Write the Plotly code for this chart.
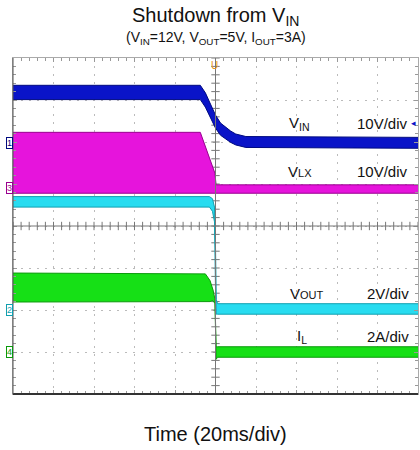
import numpy as np
import plotly.graph_objects as go

# time axis in ms (20 ms/div, 10 divisions), screen in divisions (8 vertical)
T_VIN = [-100, -7.5, -5, -2.5, 0, 2.5, 5, 7.5, 10, 12.5, 15, 100]
VIN_HI = [13.7, 13.7, 11.9, 9.2, 6.6, 4.7, 3.7, 2.8, 2.1, 1.8, 1.5, 1.3]
VIN_LO = [10.3, 10.3, 8.5, 5.8, 3.5, 1.8, 0.9, 0.1, -0.5, -0.8, -1.1, -1.3]

T_VLX = [-100, -7.5, -0.3, 0.3, 100]
VLX_HI = [13.3, 13.3, 3.6, 0.8, 0.8]
VLX_LO = [-1.2, -1.2, -1.2, -1.2, -1.2]

T_VOUT = [-100, -3, -1.5, -0.5, 0, 0.4, 1, 100]
VOUT_HI = [5.4, 5.4, 5.3, 4.9, 3.0, 0.5, 0.3, 0.3]
VOUT_LO = [4.9, 4.9, 4.7, 4.2, 1.0, -0.2, -0.2, -0.2]

T_IL = [-100, -5, -2.7, -1.2, -0.25, 0.3, 1, 100]
IL_HI = [3.76, 3.72, 3.4, 2.95, 2.5, 0.25, 0.25, 0.25]
IL_LO = [2.38, 2.38, 2.4, 2.45, 2.3, -0.35, -0.25, -0.25]

# channel: (name, per-div scale, ground offset in div, colour, edge colour)
CHANNELS = [
    ("VIN", 10, 1.98, "#0a14c8", "#000a80", T_VIN, VIN_HI, VIN_LO),
    ("VLX", 10, 0.9, "#e614dc", "#9a0090", T_VLX, VLX_HI, VLX_LO),
    ("VOUT", 2, -2.0, "#28dcf0", "#10a0b0", T_VOUT, VOUT_HI, VOUT_LO),
    ("IL", 2, -3.0, "#16e016", "#0a9a0a", T_IL, IL_HI, IL_LO),
]

FONT = "Liberation Sans, Arial, sans-serif"

fig = go.Figure()

# centre crosshair tick marks
ht = np.arange(-100, 100.1, 4)
vt = np.arange(-4, 4.01, 0.2)
fig.add_trace(go.Scatter(x=ht, y=[0] * len(ht), mode="markers",
                         marker=dict(symbol="line-ns", size=6, line=dict(width=1, color="#777")),
                         showlegend=False, hoverinfo="skip"))
fig.add_trace(go.Scatter(x=[0] * len(vt), y=vt, mode="markers",
                         marker=dict(symbol="line-ew", size=6, line=dict(width=1, color="#777")),
                         showlegend=False, hoverinfo="skip"))

for name, scale, off, color, edge, t, hi, lo in CHANNELS:
    lo_div = [off + v / scale for v in lo]
    hi_div = [off + v / scale for v in hi]
    fig.add_trace(go.Scatter(x=t, y=lo_div, mode="lines",
                             line=dict(color=edge, width=1), showlegend=False,
                             hoverinfo="skip"))
    fig.add_trace(go.Scatter(x=t, y=hi_div, mode="lines", fill="tonexty",
                             fillcolor=color, line=dict(color=edge, width=1),
                             name=name, showlegend=False))

fig.add_shape(type="line", x0=-100, x1=100, y0=0, y1=0, line=dict(color="#777", width=1))
fig.add_shape(type="line", x0=0, x1=0, y0=-4, y1=4, line=dict(color="#777", width=1))
fig.add_shape(type="line", xref="paper", yref="paper", x0=0, x1=1, y0=0, y1=0,
              line=dict(color="#333", width=2))
fig.add_shape(type="line", xref="paper", yref="paper", x0=0, x1=0, y0=0, y1=1,
              line=dict(color="#555", width=1))

ann = []
lab = dict(font=dict(family=FONT, size=15, color="#111"), showarrow=False)
ann.append(dict(x=41.7, y=2.45, text="V<sub>IN</sub>", **lab))
ann.append(dict(x=82.7, y=2.45, text="10V/div", **lab))
ann.append(dict(x=41.7, y=1.29, text="V<span style='font-size:11px'>LX</span>", **lab))
ann.append(dict(x=82.7, y=1.29, text="10V/div", **lab))
ann.append(dict(x=45.2, y=-1.6, text="V<span style='font-size:11px'>OUT</span>", **lab))
ann.append(dict(x=85.2, y=-1.6, text="2V/div", **lab))
ann.append(dict(x=42.7, y=-2.64, text="I<sub>L</sub>", **lab))
ann.append(dict(x=85.2, y=-2.64, text="2A/div", **lab))

# channel ground markers
for num, (name, scale, off, color, edge, *_rest) in zip(["1", "3", "2", "4"], CHANNELS):
    ann.append(dict(xref="paper", x=0, xanchor="right", y=off, yanchor="middle", text=num,
                    showarrow=False, font=dict(family=FONT, size=9, color=edge),
                    bordercolor=edge, borderwidth=1, borderpad=0, bgcolor="white"))
ann.append(dict(x=-0.7, yref="paper", y=1, yanchor="top", text="U", showarrow=False,
                font=dict(family=FONT, size=10, color="#e89010")))
ann.append(dict(xref="paper", x=1, xanchor="right", y=2.45, text="◂", showarrow=False,
                font=dict(family=FONT, size=9, color="#0a14c8")))

ann.append(dict(xref="paper", yref="paper", x=0.5, y=1.124, yanchor="middle",
                text="Shutdown from V<sub>IN</sub>",
                showarrow=False, font=dict(family=FONT, size=20, color="#111")))
ann.append(dict(xref="paper", yref="paper", x=0.5, y=1.06, yanchor="middle",
                text="(V<sub>IN</sub>=12V, V<sub>OUT</sub>=5V, I<sub>OUT</sub>=3A)",
                showarrow=False, font=dict(family=FONT, size=14, color="#111")))
ann.append(dict(xref="paper", yref="paper", x=0.5, y=-0.12, yanchor="middle",
                text="Time (20ms/div)",
                showarrow=False, font=dict(family=FONT, size=20, color="#111")))

axis_common = dict(showticklabels=False, zeroline=False, showline=True, linecolor="#aaa",
                   linewidth=1, mirror="ticks", ticks="inside", ticklen=4, tickcolor="#999",
                   showgrid=True, gridcolor="#bbb", griddash="2px,6px", gridwidth=1)

fig.update_layout(
    width=420, height=450,
    margin=dict(l=13, r=2, t=58, b=56, autoexpand=False),
    paper_bgcolor="white", plot_bgcolor="white",
    xaxis=dict(range=[-100, 100], dtick=20,
               minor=dict(dtick=4, ticks="inside", ticklen=3, tickcolor="#999"),
               **axis_common),
    yaxis=dict(range=[-4, 4], dtick=1,
               minor=dict(dtick=0.2, ticks="inside", ticklen=3, tickcolor="#999"),
               **axis_common),
    annotations=ann,
    showlegend=False,
)

fig.write_html("out.html", config={"displayModeBar": False},
               post_script="document.body.style.margin='0';document.body.style.overflow='hidden';")
